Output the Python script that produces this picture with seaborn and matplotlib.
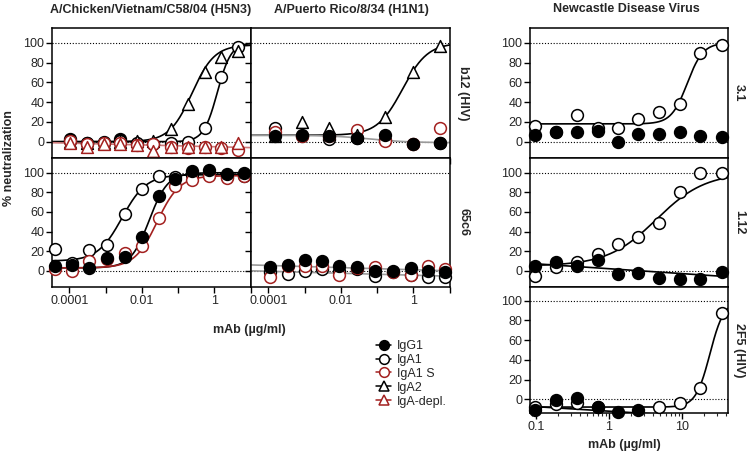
import numpy as np
import pandas as pd
import matplotlib
matplotlib.use("Agg")
import matplotlib.pyplot as plt
import seaborn as sns
from matplotlib.lines import Line2D
from matplotlib.ticker import FixedLocator, FixedFormatter, LogLocator, NullFormatter

sns.set_style("ticks")
plt.rcParams['font.family'] = ['Liberation Sans', 'DejaVu Sans']

# ---------------- data ----------------
viruses = ["A/Chicken/Vietnam/C58/04 (H5N3)", "A/Puerto Rico/8/34 (H1N1)", "Newcastle Disease Virus"]
row_labels_flu = ["b12 (HIV)", "65c6"]
row_labels_ndv = ["3.1", "1.12", "2F5 (HIV)"]
series_names = ["IgG1", "IgA1", "IgA1 S", "IgA2", "IgA-depl."]

# concentrations (µg/ml)
x_h5_b12 = [1.02e-4, 3.09e-4, 8.71e-4, 2.51e-3, 7.08e-3, 0.0204, 0.0617, 0.186, 0.537, 1.51, 4.57]
x_h1_b12 = [1.55e-4, 8.51e-4, 4.79e-3, 0.0282, 0.166, 0.955, 5.50]
x_h5_65c6 = [3.98e-5, 1.20e-4, 3.55e-4, 1.07e-3, 3.31e-3, 0.0102, 0.0302, 0.0813, 0.245, 0.724, 2.24, 6.61]
x_h1_65c6 = [1.12e-4, 3.47e-4, 1.02e-3, 3.09e-3, 9.12e-3, 0.0275, 0.0871, 0.269, 0.832, 2.51, 7.59]
x_ndv = [0.098, 0.19, 0.363, 0.708, 1.32, 2.51, 4.90, 9.33, 17.8, 34.7]

nan = np.nan
# H5N3 x b12
h5_b12_IgG1 = [2.4, -1, 0, 2.4, nan, nan, nan, nan, nan, nan, nan]
h5_b12_IgA1 = [1, -1, -1, 1, -1, -2, -1, 0, 13.5, 65, 96]
h5_b12_IgA1S = [0.7, -2.7, -1.7, -1, -3.7, -2.7, -5, -6.7, -5, -6, -8.4]
h5_b12_IgA2 = [0, -1, -1, 0, 0.5, 0.5, 12.5, 38, 70, 86, 92]
h5_b12_depl = [-1, -5, -2.7, -2.7, -3.7, -9.4, -5, -5, -5, -5, -1]
# H1N1 x b12
h1_b12_IgG1 = [5.8, 6.8, 6, 4, 6.8, -2.4, -1]
h1_b12_IgA1 = [14, 6, 2.4, 4, 1.7, -2, -1]
h1_b12_IgA1S = [10, 6, 6, 12, 0.7, -2, 13.6]
h1_b12_IgA2 = [6, 19.7, 14, 7, 25, 70, 96.6]
# H5N3 x 65c6
h5_65_IgG1 = [5.4, 6, 2.7, 13, 14, 34, 76, 94, 102, 103, 99, 100]
h5_65_IgA1 = [22.4, 8, 21, 26, 58, 83, 96.6, 96, 98, 98, 96, 97]
h5_65_IgA1S = [1.7, 0.3, 10, 12, 18, 25, 54, 86, 93, 97, 95, 97]
# H1N1 x 65c6
h1_65_IgG1 = [3.4, 6, 11, 9.5, 5, 3.4, 0.3, 0.3, 2.7, 0.3, -0.7]
h1_65_IgA1 = [-1.4, -3, 0.3, 1.7, 0, 1.7, -5, -0.7, -4, -5.8, -5.8]
h1_65_IgA1S = [-6.4, 4.4, 5, 4.4, -4.7, 2.7, 3.7, -1.7, -4.7, 4.4, 2]
# NDV
ndv_31_IgG1 = [7, 10, 9.5, 11, 0, 8, 7.5, 9.5, 6, 5]
ndv_31_IgA1 = [16, 10, 27, 13.5, 13.5, 22.7, 30.5, 38, 90, 98]
ndv_112_IgG1 = [5, 9, 5, 11.5, -3, -2, -7, -8, -8.5, -1]
ndv_112_IgA1 = [-5, 4, 8.5, 17, 27, 34, 49, 80, 100, 100]
ndv_2f5_IgG1 = [-10.9, -0.7, 1.6, -7.5, -12.6, -10.9, nan, nan, nan, nan]
ndv_2f5_IgA1 = [-8.2, -5, -4, -8, nan, nan, -7.5, -4, 11.8, 88]

# fitted curves: 4PL (bottom, top, logEC50, hill) or lin (intercept, slope in log10 x)
fit_h5_b12 = [("4pl", (0, 98, -0.62, 1.4), "black"), ("4pl", (0, 100, 0.08, 2.3), "black"),
              ("lin", (-5.08, -0.91), "#cc7a7a")]
fit_h1_b12 = [("4pl", (6.5, 100, -0.3, 1.25), "black"), ("4pl", (6.5, -1, -1.2, 0.8), "#9a9a9a")]
fit_h5_65 = [("4pl", (10, 98, -2.55, 1.3), "black"), ("4pl", (3, 100, -1.8, 1.7), "black"),
             ("4pl", (3, 97, -1.58, 1.4), "#a3201f")]
fit_h1_65 = [("lin", (1.07, -1.1), "#9a9a9a"), ("lin", (-4.48, -1.0), "#9a9a9a")]
fit_31 = [("4pl", (18, 100, 1.07, 4.0), "black")]
fit_112 = [("4pl", (5, 100, 0.65, 1.3), "black"), ("lin", (2.15, -5.0), "black")]
fit_2f5 = [("4pl", (-8, 100, 1.38, 4.5), "black"), ("lin", (-12.15, -4.6), "black")]

# ---------------- styling ----------------
RED = "#a3201f"
STYLE = {
    "IgG1": ("o", "black", "black"),
    "IgA1": ("o", "white", "black"),
    "IgA1 S": ("o", "white", RED),
    "IgA2": ("^", "white", "black"),
    "IgA-depl.": ("^", "white", RED),
}

W, H = 747, 455
fig = plt.figure(figsize=(W / 100, H / 100), dpi=100)


def box(x0, y0, x1, y1):
    return [x0 / W, 1 - y1 / H, (x1 - x0) / W, (y1 - y0) / H]


FLU_XLIM = (3.3e-5, 10.2)
NDV_XLIM = (0.0836, 42.4)

panels = [
    (box(52, 28, 251, 158), x_h5_b12,
     [("IgG1", h5_b12_IgG1), ("IgA1", h5_b12_IgA1), ("IgA2", h5_b12_IgA2),
      ("IgA1 S", h5_b12_IgA1S), ("IgA-depl.", h5_b12_depl)],
     fit_h5_b12, "flu", False, True, (-16.5, 115)),
    (box(251, 28, 450, 158), x_h1_b12,
     [("IgA1", h1_b12_IgA1), ("IgA1 S", h1_b12_IgA1S), ("IgA2", h1_b12_IgA2), ("IgG1", h1_b12_IgG1)],
     fit_h1_b12, "flu", False, False, (-16.5, 115)),
    (box(52, 158, 251, 287), x_h5_65c6,
     [("IgA1", h5_65_IgA1), ("IgA1 S", h5_65_IgA1S), ("IgG1", h5_65_IgG1)],
     fit_h5_65, "flu", True, True, (-16.5, 115)),
    (box(251, 158, 450, 287), x_h1_65c6,
     [("IgA1", h1_65_IgA1), ("IgA1 S", h1_65_IgA1S), ("IgG1", h1_65_IgG1)],
     fit_h1_65, "flu", True, False, (-16.5, 115)),
    (box(530, 28, 728, 158), x_ndv,
     [("IgA1", ndv_31_IgA1), ("IgG1", ndv_31_IgG1)], fit_31, "ndv", False, True, (-16.5, 115)),
    (box(530, 158, 728, 287), x_ndv,
     [("IgA1", ndv_112_IgA1), ("IgG1", ndv_112_IgG1)], fit_112, "ndv", False, True, (-16.5, 115)),
    (box(530, 287, 728, 413), x_ndv,
     [("IgA1", ndv_2f5_IgA1), ("IgG1", ndv_2f5_IgG1)], fit_2f5, "ndv", True, True, (-14, 114)),
]

for rect, xs, series, fits, kind, blab, llab, ylim in panels:
    ax = fig.add_axes(rect)
    ax.set_xscale("log")
    xlim = FLU_XLIM if kind == "flu" else NDV_XLIM
    ax.set_xlim(*xlim)
    ax.set_ylim(*ylim)
    for yref in (0, 100):
        ax.axhline(yref, color="black", lw=0.8, ls=(0, (1, 1.6)), zorder=1)
    grid = np.logspace(np.log10(xlim[0]), np.log10(xlim[1]), 300)
    lg = np.log10(grid)
    for fk, p, c in fits:
        if fk == "4pl":
            b, t, ec, h = p
            yy = b + (t - b) / (1 + 10 ** ((ec - lg) * h))
        else:
            yy = p[0] + p[1] * lg
        sns.lineplot(x=grid, y=yy, ax=ax, color=c, lw=1.2, estimator=None, sort=False,
                     legend=False, zorder=2)
    for i, (name, ys) in enumerate(series):
        m, fc, ec = STYLE[name]
        df = pd.DataFrame({"x": xs, "y": ys}).dropna()
        sns.scatterplot(data=df, x="x", y="y", ax=ax, marker=m, s=72, color=fc,
                        edgecolor=ec, linewidth=1.1, zorder=3 + i, legend=False, clip_on=False)
    ax.set_xlabel("")
    ax.set_ylabel("")
    if kind == "flu":
        majors = [1e-4, 1e-3, 1e-2, 1e-1, 1, 10]
        labs = ["0.0001", "", "0.01", "", "1", ""]
    else:
        majors = [0.1, 1, 10]
        labs = ["0.1", "1", "10"]
    ax.xaxis.set_major_locator(FixedLocator(majors))
    ax.xaxis.set_major_formatter(FixedFormatter(labs))
    ax.xaxis.set_minor_locator(LogLocator(base=10, subs=np.arange(2, 10)))
    ax.xaxis.set_minor_formatter(NullFormatter())
    ax.set_yticks([0, 20, 40, 60, 80, 100])
    ax.tick_params(axis="both", which="major", direction="out", length=4, width=1,
                   labelsize=9, pad=1.5, color="black")
    ax.tick_params(axis="x", which="minor", direction="out", length=2.5, width=0.8)
    ax.tick_params(axis="x", labelbottom=blab)
    ax.tick_params(axis="y", labelleft=llab)
    for sp in ax.spines.values():
        sp.set_linewidth(1.1)
        sp.set_color("black")

# titles
fig.text(150.5 / W, 1 - 10 / H, viruses[0], ha="center", va="center", fontsize=9, weight="bold")
fig.text(351 / W, 1 - 10 / H, viruses[1], ha="center", va="center", fontsize=9, weight="bold")
fig.text(626 / W, 1 - 9 / H, viruses[2], ha="center", va="center", fontsize=9, weight="bold")

# row labels
fig.text(463 / W, 1 - 93 / H, row_labels_flu[0], rotation=270, ha="center", va="center",
         fontsize=9, weight="bold")
fig.text(463 / W, 1 - 222 / H, row_labels_flu[1], rotation=270, ha="center", va="center",
         fontsize=9, weight="bold")
for lab, yc in zip(row_labels_ndv, [93, 222, 350]):
    fig.text(739 / W, 1 - yc / H, lab, rotation=270, ha="center", va="center",
             fontsize=9, weight="bold")

# axis labels
fig.text(9 / W, 1 - 158 / H, "% neutralization", rotation=90, ha="center", va="center",
         fontsize=9, weight="bold")
fig.text(249 / W, 1 - 330 / H, "mAb (µg/ml)", ha="center", va="center", fontsize=9, weight="bold")
fig.text(624 / W, 1 - 445 / H, "mAb (µg/ml)", ha="center", va="center", fontsize=9, weight="bold")

# legend
handles = []
for name in series_names:
    m, fc, ec = STYLE[name]
    handles.append(Line2D([0], [0], color=ec, lw=1.1, marker=m, markersize=7,
                          markerfacecolor=fc, markeredgecolor=ec, markeredgewidth=1.1))
fig.legend(handles, series_names, loc="upper left", bbox_to_anchor=(376 / W, 1 - 340 / H),
           frameon=False, fontsize=9, handlelength=1.2, handletextpad=0.5,
           labelspacing=0.15, borderaxespad=0, borderpad=0)

fig.savefig("out.png", dpi=100)
